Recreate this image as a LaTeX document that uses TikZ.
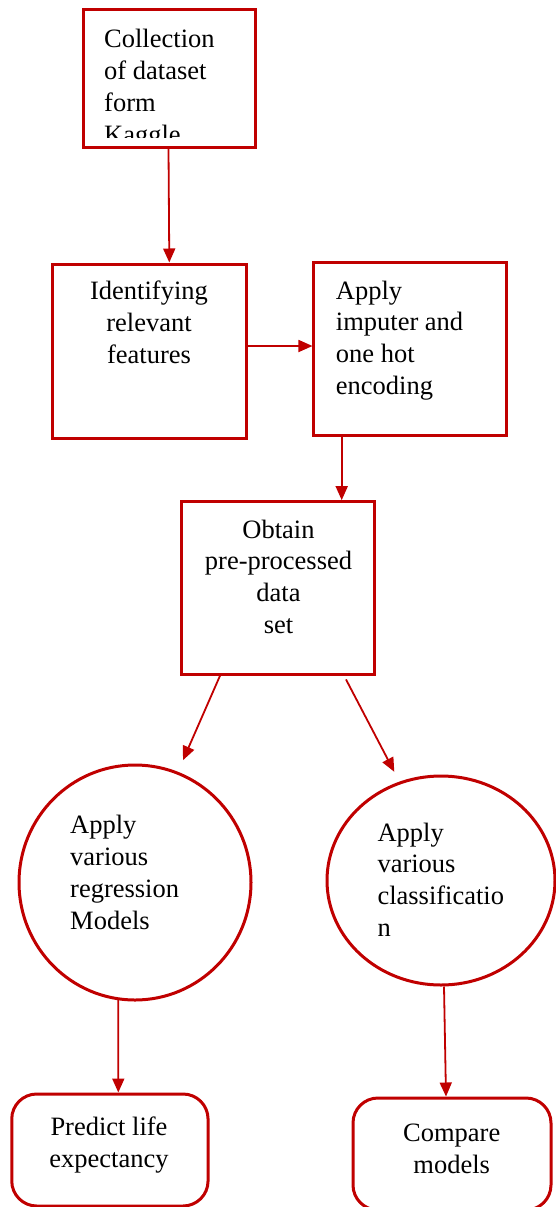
\documentclass[tikz,border=0pt]{standalone}
\usepackage{fontspec}
\setmainfont{Liberation Serif}
\usetikzlibrary{arrows.meta,shapes.geometric}
\definecolor{dred}{RGB}{192,0,0}
\begin{document}
\begin{tikzpicture}[x=1pt,y=-1pt,
  box/.style={draw=dred,line width=3pt,inner sep=0pt,rectangle},
  rbox/.style={box,rounded corners=25pt},
  circ/.style={draw=dred,line width=3pt,inner sep=0pt,ellipse},
  txt/.style={inner sep=0pt,font=\fontsize{26.5}{31.8}\selectfont},
  arr/.style={draw=dred,line width=1.8pt,-{Triangle[length=14pt,width=12pt]}}]
\useasboundingbox (0,0) rectangle (555,1207);
% shapes
\node[box,minimum width=172pt,minimum height=137pt] (b1) at (169,78.5) {};
\node[box,minimum width=194pt,minimum height=174pt] (b2) at (149.7,351) {};
\node[box,minimum width=192.7pt,minimum height=172.3pt] (b3) at (410.3,349) {};
\node[box,minimum width=193.3pt,minimum height=173.3pt] (b4) at (278.3,588.3) {};
\node[circ,minimum width=232pt,minimum height=235pt] (c1) at (135,882.5) {};
\node[circ,minimum width=228pt,minimum height=209pt] (c2) at (441,880.5) {};
\node[rbox,minimum width=196.3pt,minimum height=112pt] (b5) at (109.9,1150) {};
\node[rbox,minimum width=198pt,minimum height=112pt] (b6) at (452,1154) {};
% texts (anchor = baseline of the last line)
\begin{scope}
\clip (84,11) rectangle (254,137);
\node[txt,anchor=base west,align=left] (t1) at (104,143) {Collection\\of dataset\\form\\Kaggle};
\end{scope}
\node[txt,anchor=base,align=center] (t2) at (149,363.5) {Identifying\\relevant\\features};
\node[txt,anchor=base west,align=left] (t3) at (335.7,394.5) {Apply\\imputer and\\one hot\\encoding};
\node[txt,anchor=base,align=center] (t4) at (278.5,633.5) {Obtain\\pre-processed\\data\\set};
\node[txt,anchor=base west,align=left] (t5) at (70,929) {Apply\\various\\regression\\Models};
\node[txt,anchor=base west,align=left] (t6) at (377.3,936.5) {Apply\\various\\classificatio\\n};
\node[txt,anchor=base,align=center] (t7) at (109,1167) {Predict life\\expectancy};
\node[txt,anchor=base,align=center] (t8) at (451.7,1173) {Compare\\models};
% connectors
\draw[arr] ([xshift=-0.5pt]b1.south) -- ([xshift=19.6pt]b2.north);
\draw[arr] ([yshift=5pt]b2.east) -- ([yshift=3pt]b3.west);
\draw[arr] ([xshift=-68.6pt]b3.south) -- ([xshift=63.4pt]b4.north);
\draw[arr] ([xshift=-57.6pt,yshift=2.3pt]b4.south) -- ([xshift=48pt,yshift=3.3pt]c1.north);
\draw[arr] ([xshift=67.7pt,yshift=-3pt]b4.south) -- ([xshift=-46.7pt,yshift=2.7pt]c2.north);
\draw[arr] ([xshift=-16.7pt,yshift=2pt]c1.south) -- ([xshift=8.4pt]b5.north);
\draw[arr] ([xshift=3pt]c2.south) -- ([xshift=-6pt]b6.north);
\end{tikzpicture}
\end{document}
